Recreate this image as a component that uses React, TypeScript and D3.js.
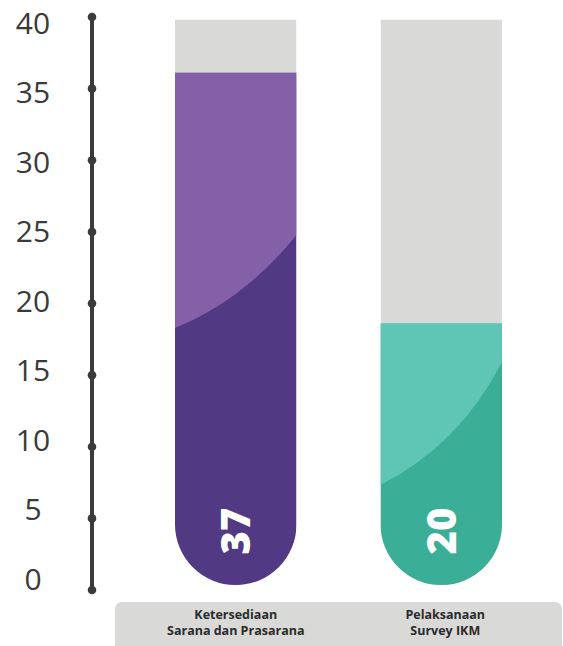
import React from "react";
import * as d3 from "d3";

const categories = ["Ketersediaan Sarana dan Prasarana", "Pelaksanaan Survey IKM"];
const categoryLines = [["Ketersediaan", "Sarana dan Prasarana"], ["Pelaksanaan", "Survey IKM"]];
const values = [37, 20];
const tickValues = [0, 5, 10, 15, 20, 25, 30, 35, 40];
const lightColors = ["#8360a8", "#5fc5b4"];
const darkColors = ["#523984", "#3aae96"];
// decorative highlight curve (left y, control x frac, control y, right y) in px
const highlightCurves = [
  { left: 328, cx: 0.57, cy: 300, right: 235 },
  { left: 485, cx: 0.65, cy: 445, right: 362 },
];

const W = 563;
const H = 646;
const tubeTop = 19.5;
const tubeBottom = 585;

export default function App() {
  const x = d3.scaleBand<string>().domain(categories).range([175, 502]).paddingInner(0.409).paddingOuter(0);
  const yAxis = d3.scaleLinear().domain([0, 40]).range([590, 17]);
  const yLabel = d3.scaleLinear().domain([0, 40]).range([579, 23]);
  const yFill = d3.scaleLinear().domain([0, 40]).range([618.6, 28.6]);
  const bw = x.bandwidth();
  const r = bw / 2;

  const tubePath = (x0: number) => {
    const p = d3.path();
    p.moveTo(x0, tubeTop);
    p.lineTo(x0 + bw, tubeTop);
    p.lineTo(x0 + bw, tubeBottom - r);
    p.arc(x0 + r, tubeBottom - r, r, 0, Math.PI, false);
    p.closePath();
    return p.toString();
  };

  return (
    <svg width={W} height={H} style={{ position: "absolute", left: 0, top: 0 }} xmlns="http://www.w3.org/2000/svg">
      <defs>
        {categories.map((c, i) => (
          <clipPath id={`tube${i}`} key={c}>
            <path d={tubePath(x(c)!)} />
          </clipPath>
        ))}
      </defs>

      {/* axis */}
      <line x1={92} x2={92} y1={yAxis(0)} y2={yAxis(40)} stroke="#3b3b3b" strokeWidth={4} />
      {tickValues.map((t) => (
        <g key={t}>
          <circle cx={92} cy={yAxis(t)} r={4.3} fill="#3b3b3b" />
          <text
            x={33}
            y={yLabel(t)}
            dy="0.36em"
            textAnchor="middle"
            fontFamily="'Open Sans', sans-serif"
            fontWeight={400}
            fontSize={30}
            fill="#3a3a3a"
          >
            {t}
          </text>
        </g>
      ))}

      {/* tubes */}
      {categories.map((c, i) => {
        const x0 = x(c)!;
        const top = yFill(values[i]);
        const hc = highlightCurves[i];
        const hp = d3.path();
        hp.moveTo(x0, top);
        hp.lineTo(x0 + bw, top);
        hp.lineTo(x0 + bw, hc.right);
        hp.quadraticCurveTo(x0 + bw * hc.cx, hc.cy, x0, hc.left);
        hp.closePath();
        const cx = x0 + r;
        return (
          <g key={c}>
            <g clipPath={`url(#tube${i})`}>
              <rect x={x0} y={tubeTop} width={bw} height={tubeBottom - tubeTop} fill="#d9d9d8" />
              <rect x={x0} y={top} width={bw} height={tubeBottom - top} fill={darkColors[i]} />
              <path d={hp.toString()} fill={lightColors[i]} />
            </g>
            <text
              transform={`translate(${cx},531) rotate(-90)`}
              textAnchor="middle"
              dy="0.36em"
              fontFamily="'Open Sans', sans-serif"
              fontWeight={800}
              fontSize={40}
              fill="#ffffff"
            >
              {values[i]}
            </text>
          </g>
        );
      })}

      {/* category box */}
      <rect x={115} y={602} width={447} height={60} rx={7} fill="#d9d9d8" />
      {categories.map((c, i) => (
        <text
          key={c}
          x={x(c)! + r + (i === 1 ? 4 : 0)}
          y={619}
          textAnchor="middle"
          fontFamily="'Open Sans', sans-serif"
          fontWeight={700}
          fontSize={12.5}
          fill="#2b2b2b"
        >
          {categoryLines[i].map((l, j) => (
            <tspan key={l} x={x(c)! + r + (i === 1 ? 4 : 0)} dy={j === 0 ? 0 : 16}>
              {l}
            </tspan>
          ))}
        </text>
      ))}
    </svg>
  );
}
